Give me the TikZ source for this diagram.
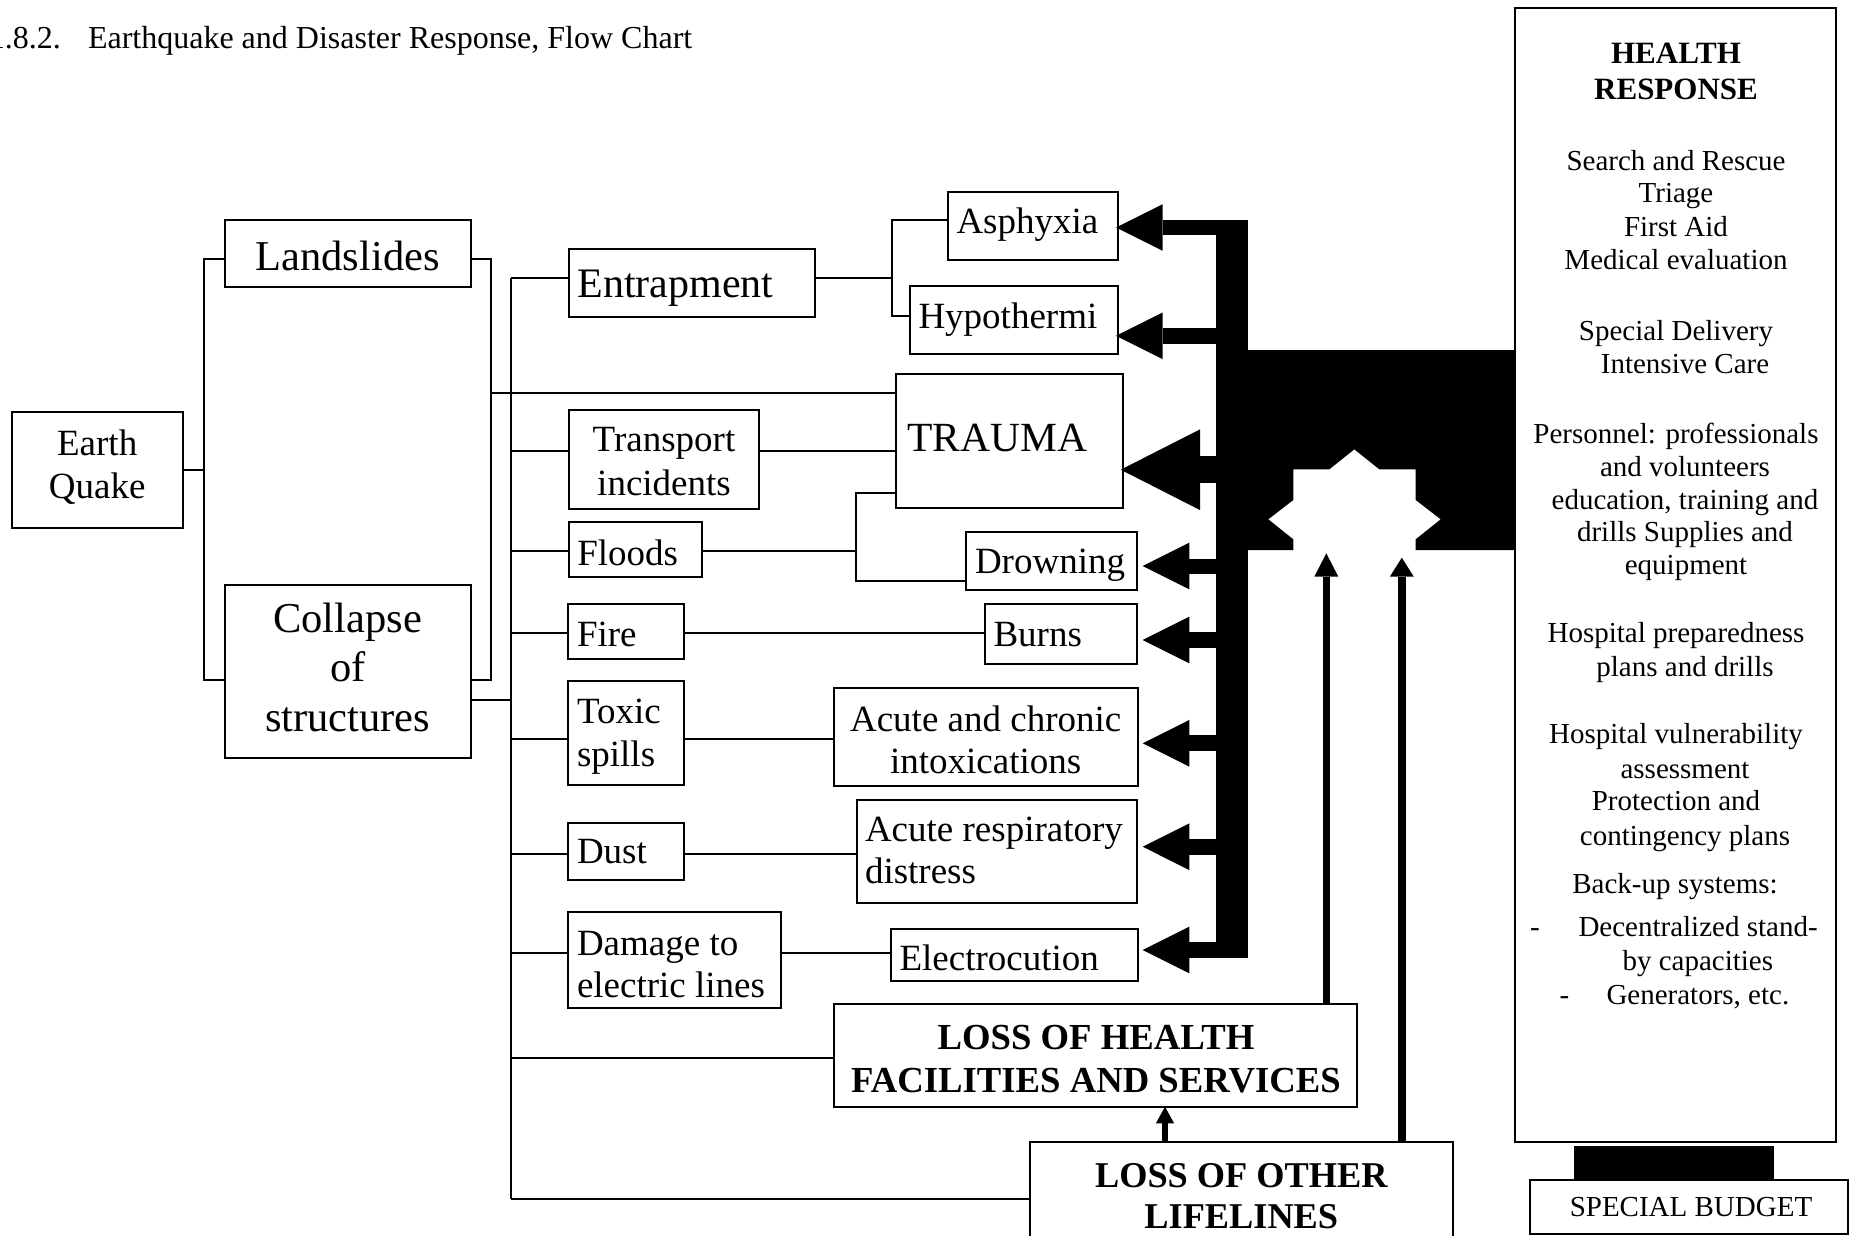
\documentclass[tikz,border=0pt]{standalone}
\usepackage{fontspec}
\setmainfont{Liberation Serif}
\usetikzlibrary{arrows.meta,fit}
\newcommand\fsz[1]{\fontsize{#1}{#1}\selectfont}
\tikzset{
  box/.style={draw, line width=2pt, inner sep=0pt, outer sep=0pt},
  lbl/.style={inner sep=0pt, outer sep=0pt, anchor=base west, font=\fsz{37}},
  clbl/.style={inner sep=0pt, outer sep=0pt, anchor=base, font=\fsz{37}},
  wire/.style={line width=2pt},
  bigarrow/.style={line width=16pt, -{Triangle[length=46.6pt,width=46.7pt,line width=0pt]}},
  hugearrow/.style={line width=27.3pt, -{Triangle[length=79.3pt,width=80.7pt,line width=0pt]}},
  liftarrow/.style={line width=7.5pt, -{Triangle[length=#1,width=24pt,line width=0pt]}},
  smallarrow/.style={line width=6pt, -{Triangle[length=16.7pt,width=18.3pt,line width=0pt]}},
}
\begin{document}
\begin{tikzpicture}[x=1pt,y=-1pt]
\path[use as bounding box] (0,0) rectangle (1852,1235);
\clip (0,0) rectangle (1852,1235);
\fill[white] (0,0) rectangle (1852,1235);

% heading line
\node[lbl, font=\fsz{32}] (secnum) at (-11,48.3) {1.8.2.};
\node[lbl, font=\fsz{32}] (title) at (88,48.3) {Earthquake and Disaster Response, Flow Chart};

% ---------- boxes ----------
\node[box, fit={(12,411.6)(182.5,528)}] (eq) {};
\node[box, fit={(224.6,220.3)(470.7,286.9)}] (land) {};
\node[box, fit={(224.6,585.4)(470.7,758)}] (coll) {};
\node[box, fit={(568.6,249.3)(815.1,316.7)}] (ent) {};
\node[box, fit={(568.6,410)(759.1,509.3)}] (tra) {};
\node[box, fit={(568.6,522.3)(701.9,577.3)}] (fl) {};
\node[box, fit={(568.4,604)(684.4,659)}] (fire) {};
\node[box, fit={(568.4,680.7)(684.4,785)}] (tox) {};
\node[box, fit={(568.4,822.7)(684.4,880)}] (dust) {};
\node[box, fit={(568.4,911.7)(781.3,1007.5)}] (dmg) {};
\node[box, fit={(947.8,191.7)(1117.7,260)}] (asph) {};
\node[box, fit={(909.6,286)(1117.7,354.3)}] (hyp) {};
\node[box, fit={(895.9,374)(1122.7,508.3)}] (trauma) {};
\node[box, fit={(966.4,531.7)(1137.2,590)}] (drown) {};
\node[box, fit={(985.3,604)(1137,664)}] (burns) {};
\node[box, fit={(833.9,688.3)(1137.5,785.7)}] (intox) {};
\node[box, fit={(857.1,800)(1137,903.3)}] (resp) {};
\node[box, fit={(890.6,929.3)(1137.5,981)}] (elec) {};
\node[box, fit={(834.4,1004.3)(1357.1,1106.7)}] (loh) {};
\node[box, fit={(1029.9,1141.7)(1452.7,1250)}] (loo) {};
\node[box, fit={(1515,8.4)(1836,1141.7)}] (hr) {};
\node[box, fit={(1530,1180)(1848,1233.6)}] (sb) {};

% ---------- box texts ----------
\node[clbl] (eq-1) at (97.2,455.3) {Earth};
\node[clbl] (eq-2) at (97.2,498.5) {Quake};
\node[clbl, font=\fsz{42.5}] (land-1) at (347.7,270) {Landslides};
\node[clbl, font=\fsz{42.5}] (coll-1) at (347.7,632) {Collapse};
\node[clbl, font=\fsz{42.5}] (coll-2) at (347.7,681) {of};
\node[clbl, font=\fsz{42.5}] (coll-3) at (347.7,731) {structures};
\node[lbl, font=\fsz{42}] (ent-1) at (577.5,297.3) {Entrapment};
\node[clbl] (tra-1) at (664,451.7) {Transport};
\node[clbl] (tra-2) at (664,495) {incidents};
\node[lbl] (fl-1) at (577.3,565) {Floods};
\node[lbl] (fire-1) at (577,646.7) {Fire};
\node[lbl] (tox-1) at (577,723.3) {Toxic};
\node[lbl] (tox-2) at (577,766.7) {spills};
\node[lbl] (dust-1) at (577,863.3) {Dust};
\node[lbl] (dmg-1) at (577,955) {Damage to};
\node[lbl] (dmg-2) at (577,997) {electric lines};
\node[lbl] (asph-1) at (956.5,233.3) {Asphyxia};
\node[lbl] (hyp-1) at (918.5,328.3) {Hypothermi};
\node[lbl, font=\fsz{41.5}] (trauma-1) at (907.5,451.7) {TRAUMA};
\node[lbl] (drown-1) at (975,573.3) {Drowning};
\node[lbl] (burns-1) at (993.5,646.7) {Burns};
\node[clbl] (intox-1) at (985.7,731.7) {Acute and chronic};
\node[clbl] (intox-2) at (985.7,773.3) {intoxications};
\node[lbl] (resp-1) at (865,841.7) {Acute respiratory};
\node[lbl] (resp-2) at (865,883.3) {distress};
\node[lbl] (elec-1) at (899.5,970) {Electrocution};
\node[clbl, font=\fsz{36.7}\bfseries] (loh-1) at (1096,1049) {LOSS OF HEALTH};
\node[clbl, font=\fsz{36.7}\bfseries] (loh-2) at (1096,1092.5) {FACILITIES AND SERVICES};
\node[clbl, font=\fsz{36.3}\bfseries] (loo-1) at (1241.3,1187) {LOSS OF OTHER};
\node[clbl, font=\fsz{36.3}\bfseries] (loo-2) at (1241.3,1228) {LIFELINES};
\node[clbl, font=\fsz{29}] (sb-1) at (1691,1216.5) {SPECIAL BUDGET};

% health response column
\node[clbl, font=\fsz{31}\bfseries] (hr-h1) at (1676,63) {HEALTH};
\node[clbl, font=\fsz{31}\bfseries] (hr-h2) at (1676,99.5) {RESPONSE};
\foreach \yy/\xx/\hrtext [count=\i] in {
  170.3/1676/{Search and Rescue}, 202.8/1676/{Triage}, 236.5/1676/{First Aid},
  269.8/1676/{Medical evaluation}, 340.6/1676/{Special Delivery},
  373.1/1685/{Intensive Care}, 443.9/1676/{Personnel: professionals},
  476.5/1685/{and volunteers}, 509/1685/{education, training and},
  541.5/1685/{drills Supplies and}, 574/1686/{equipment},
  642.5/1676/{Hospital preparedness}, 676/1685/{plans and drills},
  743.7/1676/{Hospital vulnerability}, 778/1685/{assessment},
  810.5/1676/{Protection and}, 845/1685/{contingency plans},
  893.5/1675/{Back-up systems:}}
  \node[clbl, font=\fsz{29}] (hr-\i) at (\xx,\yy) {\hrtext};
\node[lbl, font=\fsz{29}] (hr-d1) at (1530,936) {-};
\node[lbl, font=\fsz{29}] (hr-i1) at (1578.5,936) {Decentralized stand-};
\node[lbl, font=\fsz{29}] (hr-i1b) at (1622.5,970.4) {by capacities};
\node[lbl, font=\fsz{29}] (hr-d2) at (1559.5,1004.9) {-};
\node[lbl, font=\fsz{29}] (hr-i2) at (1606.5,1004.9) {Generators, etc.};

% ---------- thin connectors ----------
\coordinate (eqj) at (204,469.8);
\coordinate (lj) at (204,258.6);
\coordinate (cj) at (204,680.3);
\draw[wire] (eq.east |- eqj) -- (eqj);
\draw[wire] (land.west |- lj) -- (lj) -- (cj) -- (coll.west |- cj);

\coordinate (lr) at (491,258.6);
\coordinate (cr) at (491,680.3);
\coordinate (tr) at (491,393.3);
\draw[wire] (land.east |- lr) -- (lr) -- (cr) -- (coll.east |- cr);
\draw[wire] (tr) -- (tr -| trauma.west);

% distribution bus
\coordinate (bt) at (511,277.7);
\coordinate (bb) at (511,1199);
\coordinate (cb) at (511,700.3);
\draw[wire] (bt) -- (bb);
\draw[wire] (coll.east |- cb) -- (cb);
\foreach \yy/\target in {277.7/ent, 451/tra, 550.7/fl, 632.7/fire, 738.7/tox,
                         854/dust, 953.3/dmg, 1057.7/loh, 1199/loo}
  \draw[wire] (511,\yy) -- (\target.west |- 0,\yy);

% causes to effects
\coordinate (ej) at (892,277.7);
\coordinate (ea) at (892,220);
\coordinate (eh) at (892,316);
\draw[wire] (ent.east |- ej) -- (ej);
\draw[wire] (ea -| asph.west) -- (ea) -- (eh) -- (eh -| hyp.west);
\coordinate (trj) at (759.1,451);
\draw[wire] (tra.east |- trj) -- (trj -| trauma.west);
\coordinate (fj) at (855.7,550.7);
\coordinate (ft) at (855.7,492.7);
\coordinate (fd) at (855.7,581);
\draw[wire] (fl.east |- fj) -- (fj);
\draw[wire] (ft -| trauma.west) -- (ft) -- (fd) -- (fd -| drown.west);
\coordinate (fij) at (700,632.7);
\draw[wire] (fij -| fire.east) -- (fij -| burns.west);
\coordinate (txj) at (700,738.7);
\draw[wire] (txj -| tox.east) -- (txj -| intox.west);
\coordinate (dj) at (700,854);
\draw[wire] (dj -| dust.east) -- (dj -| resp.west);
\coordinate (dmj) at (800,953.3);
\draw[wire] (dmj -| dmg.east) -- (dmj -| elec.west);

% ---------- response trunk and block ----------
\fill (1215.7,220) rectangle (1247.7,958.3);
\fill (1247.7,350) -- (1515,350) -- (1515,550) -- (1415.7,550) -- (1415.7,539.3)
  -- (1440.7,519.3) -- (1415.7,500) -- (1415.7,469.3) -- (1379.3,469.3)
  -- (1354.3,449.3) -- (1329.3,469.3) -- (1293.3,469.3) -- (1293.3,500)
  -- (1268.3,519.3) -- (1293.3,539.3) -- (1293.3,550) -- (1247.7,550) -- cycle;

\coordinate (k1) at (1231,227.5);
\coordinate (k2) at (1231,335.8);
\coordinate (k3) at (1231,469.7);
\coordinate (k4) at (1231,566);
\coordinate (k5) at (1231,640);
\coordinate (k6) at (1231,743.3);
\coordinate (k7) at (1231,846.7);
\coordinate (k8) at (1231,950);
\draw[bigarrow, line width=15pt, shorten >=-1.6pt] (k1) -- (k1 -| asph.east);
\draw[bigarrow, shorten >=-1.6pt] (k2) -- (k2 -| hyp.east);
\draw[hugearrow, shorten >=-2pt] (k3) -- (k3 -| trauma.east);
\draw[bigarrow, line width=15pt, shorten >=5.5pt] (k4) -- (k4 -| drown.east);
\draw[bigarrow, shorten >=5.7pt] (k5) -- (k5 -| burns.east);
\draw[bigarrow, shorten >=5.2pt] (k6) -- (k6 -| intox.east);
\draw[bigarrow, shorten >=5.7pt] (k7) -- (k7 -| resp.east);
\draw[bigarrow, shorten >=5.2pt] (k8) -- (k8 -| elec.east);

% lifeline arrows
\coordinate (u1) at (1326.3,553.3);
\coordinate (u2) at (1401.8,557.7);
\draw[liftarrow=23.4pt] (u1 |- loh.north) -- (u1);
\draw[liftarrow=19pt] (u2 |- loo.north) -- (u2);
\coordinate (s1) at (1165,1120);
\draw[smallarrow] (s1 |- loo.north) -- (s1 |- loh.south);

% budget link
\fill (1574,1145.7) rectangle (1774,1179.8);
\end{tikzpicture}
\end{document}
